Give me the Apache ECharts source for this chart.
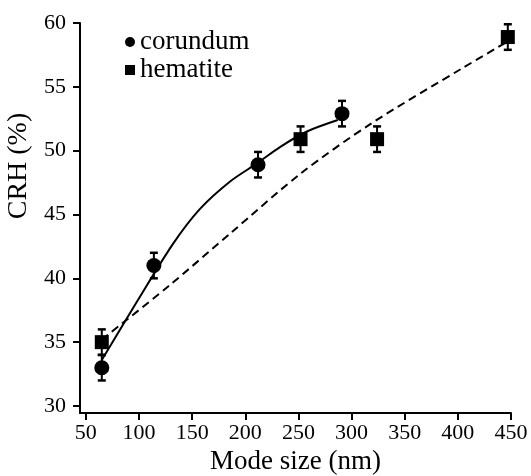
<!DOCTYPE html>
<html>
<head>
<meta charset="utf-8">
<script src="https://cdn.jsdelivr.net/npm/echarts@6/dist/echarts.min.js"></script>
<style>
html,body{margin:0;padding:0;background:#fff;}
#chart{width:531px;height:476px;}
</style>
</head>
<body>
<div id="chart"></div>
<script>
// tick labels
const xTicks = [50, 100, 150, 200, 250, 300, 350, 400, 450];
const yTicks = [30, 35, 40, 45, 50, 55, 60];

// measured points, mode size (nm) vs CRH (%)
const corundumSize = [65, 114, 212, 291];
const corundumCRH = [33.0, 41.0, 48.9, 52.9];
const corundumErr = [1.0, 1.0, 1.0, 1.0];

const hematiteSize = [65, 252, 324, 447];
const hematiteCRH = [35.0, 50.9, 50.9, 58.9];
const hematiteErr = [1.0, 1.0, 1.0, 1.0];

// fit curves
const corundumFitSize = [65, 99, 132, 157, 186, 211, 233, 258, 287];
const corundumFitCRH = [33.6, 38.3, 42.7, 45.4, 47.6, 49.0, 50.3, 51.5, 52.4];
const hematiteFitSize = [65, 128, 187, 252, 318, 405, 448];
const hematiteFitCRH = [35.2, 39.4, 43.6, 48.2, 52.1, 56.5, 58.6];

const font = 'Liberation Serif';

function pairs(xs, ys) {
  return xs.map((x, i) => [x, ys[i]]);
}
function triples(xs, ys, es) {
  return xs.map((x, i) => [x, ys[i], es[i]]);
}

function errorBar(params, api) {
  const x = api.value(0), y = api.value(1), e = api.value(2);
  const top = api.coord([x, y + e]);
  const bot = api.coord([x, y - e]);
  const w = 4;
  const cap = {stroke: '#000', lineWidth: 2.5};
  return {
    type: 'group',
    children: [
      {type: 'line', shape: {x1: top[0], y1: top[1], x2: bot[0], y2: bot[1]}, style: {stroke: '#000', lineWidth: 2}},
      {type: 'line', shape: {x1: top[0] - w, y1: top[1], x2: top[0] + w, y2: top[1]}, style: cap},
      {type: 'line', shape: {x1: bot[0] - w, y1: bot[1], x2: bot[0] + w, y2: bot[1]}, style: cap}
    ]
  };
}

const chart = echarts.init(document.getElementById('chart'));
const option = {
  animation: false,
  backgroundColor: '#fff',
  textStyle: {fontFamily: font, color: '#000'},
  grid: {left: 80, right: 20, top: 23, bottom: 63, outerBoundsMode: 'none'},
  legend: {
    orient: 'vertical',
    left: 125,
    top: 28,
    padding: 0,
    itemGap: 0,
    itemWidth: 10,
    itemHeight: 10,
    textStyle: {fontFamily: font, fontSize: 27, color: '#000', lineHeight: 28},
    data: [
      {name: 'corundum', icon: 'circle'},
      {name: 'hematite', icon: 'rect'}
    ]
  },
  xAxis: {
    type: 'value',
    min: 44.5,
    max: 450,
    name: 'Mode size (nm)',
    nameLocation: 'middle',
    nameGap: 28,
    nameTextStyle: {fontFamily: font, fontSize: 27, color: '#000'},
    splitLine: {show: false},
    axisLine: {show: true, lineStyle: {color: '#000', width: 2}},
    axisTick: {show: true, customValues: xTicks, length: 7, lineStyle: {color: '#000', width: 2}},
    axisLabel: {customValues: xTicks, fontFamily: font, fontSize: 22, color: '#000', margin: 9}
  },
  yAxis: {
    type: 'value',
    min: 29.45,
    max: 60,
    name: 'CRH (%)',
    nameLocation: 'middle',
    nameRotate: 90,
    nameGap: 37,
    nameTextStyle: {fontFamily: font, fontSize: 28, color: '#000', padding: [0, 0, 0, 104]},
    splitLine: {show: false},
    axisLine: {show: true, lineStyle: {color: '#000', width: 2}},
    axisTick: {show: true, customValues: yTicks, length: 7, lineStyle: {color: '#000', width: 2}},
    axisLabel: {customValues: yTicks, fontFamily: font, fontSize: 22, color: '#000', margin: 14}
  },
  series: [
    {
      name: 'corundum fit',
      type: 'line',
      smooth: 0.3,
      symbol: 'none',
      data: pairs(corundumFitSize, corundumFitCRH),
      lineStyle: {color: '#000', width: 2}
    },
    {
      name: 'hematite fit',
      type: 'line',
      smooth: 0.3,
      symbol: 'none',
      data: pairs(hematiteFitSize, hematiteFitCRH),
      lineStyle: {color: '#000', width: 2, type: [8, 5]}
    },
    {
      name: 'corundum err',
      type: 'custom',
      renderItem: errorBar,
      data: triples(corundumSize, corundumCRH, corundumErr),
      z: 3
    },
    {
      name: 'hematite err',
      type: 'custom',
      renderItem: errorBar,
      data: triples(hematiteSize, hematiteCRH, hematiteErr),
      z: 3
    },
    {
      name: 'corundum',
      type: 'scatter',
      symbol: 'circle',
      symbolSize: 15,
      itemStyle: {color: '#000', opacity: 1},
      data: pairs(corundumSize, corundumCRH),
      z: 4
    },
    {
      name: 'hematite',
      type: 'scatter',
      symbol: 'rect',
      symbolSize: 14,
      itemStyle: {color: '#000', opacity: 1},
      data: pairs(hematiteSize, hematiteCRH),
      z: 4
    }
  ]
};
chart.setOption(option);
</script>
</body>
</html>
